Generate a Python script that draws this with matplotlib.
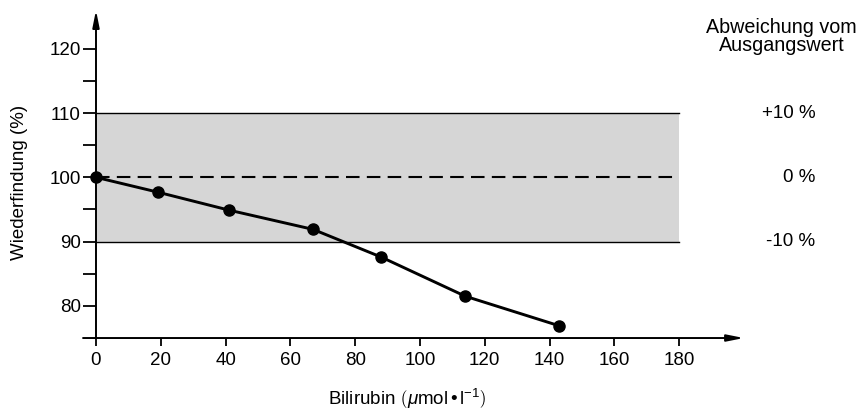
import matplotlib.pyplot as plt

plt.rcParams['font.family'] = ['Liberation Sans', 'DejaVu Sans']
plt.rcParams['mathtext.fontset'] = 'custom'
plt.rcParams['mathtext.rm'] = 'Liberation Sans'
plt.rcParams['mathtext.it'] = 'Liberation Sans:italic'

# Messpunkte (Bilirubin in umol/l, Wiederfindung in %)
bilirubin = [0, 19, 41, 67, 88, 114, 143]
wiederfindung = [100, 97.7, 94.9, 91.9, 87.6, 81.5, 76.9]

x_ticks = [0, 20, 40, 60, 80, 100, 120, 140, 160, 180]
y_ticks = [80, 90, 100, 110, 120]
y_minor = [85, 95, 105, 115]

band_low, band_ref, band_high = 90, 100, 110
band_labels = ['+10 %', '0 %', '-10 %']
band_levels = [band_high, band_ref, band_low]

fig = plt.figure(figsize=(8.65, 4.15), dpi=100)
ax = fig.add_axes([0.096, 0.1855, 0.764, 0.79])
ax.set_xlim(-4, 200)
ax.set_ylim(75, 126)

# grauer Toleranzbereich
ax.fill_between([0, 180], band_low, band_high, color='#d6d6d6', lw=0, zorder=1)
ax.plot([0, 180], [band_high, band_high], color='black', lw=1.0, zorder=2)
ax.plot([0, 180], [band_low, band_low], color='black', lw=1.0, zorder=2)
ax.plot([0, 180], [band_ref, band_ref], color='black', lw=1.5,
        dashes=(6.5, 3.5), zorder=2)

ax.plot(bilirubin, wiederfindung, color='black', lw=2.1, marker='o',
        markersize=8, zorder=3, clip_on=False)

# Achsen mit Pfeilen
for s in ['top', 'right', 'left', 'bottom']:
    ax.spines[s].set_visible(False)
arrow = dict(arrowstyle='-|>,head_length=1.0,head_width=0.2',
             color='black', lw=1.4, shrinkA=0, shrinkB=0)
ax.annotate('', xy=(0, 126), xytext=(0, 75), arrowprops=arrow,
            annotation_clip=False)
ax.annotate('', xy=(200, 75), xytext=(-4, 75), arrowprops=arrow,
            annotation_clip=False)

ax.spines['left'].set_position(('data', 0))
ax.set_xticks(x_ticks)
ax.set_yticks(y_ticks)
ax.set_yticks(y_minor, minor=True)
ax.tick_params(axis='x', which='major', length=6, width=1.3,
               labelsize=13.5, pad=4)
ax.tick_params(axis='y', which='both', length=9.5, width=1.3,
               labelsize=13.5, pad=1.5)
ax.patch.set_alpha(0)

ax.set_ylabel('Wiederfindung (%)', fontsize=13.5)
ax.yaxis.set_label_coords(-0.083, 0.476)
xlab = (r'Bilirubin $\left(\mu\mathrm{mol}\,\mathrm{' + '\u2022'
        + r'}\,\mathrm{l}^{-1}\right)$')
ax.set_xlabel(xlab, fontsize=13.5)
ax.xaxis.set_label_coords(0.49, -0.15)

# rechte Beschriftung
fig.text(0.9035, 0.913, 'Abweichung vom\nAusgangswert', ha='center', va='center',
         fontsize=14.2, linespacing=0.93)
for lab, lev in zip(band_labels, band_levels):
    ax.text(222, lev, lab, ha='right', va='center', fontsize=13.5, clip_on=False)

fig.savefig('out.png', dpi=100)
